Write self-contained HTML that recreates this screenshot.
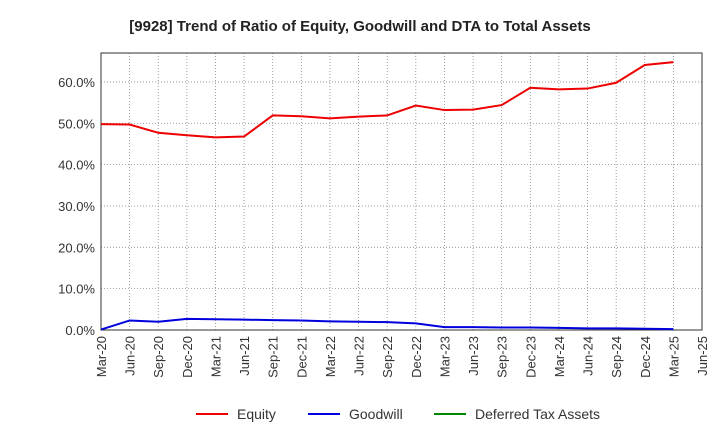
<!DOCTYPE html>
<html><head><meta charset="utf-8"><style>
body{margin:0;background:#fff;font-family:"Liberation Sans",Arial,sans-serif;}
svg text{font-family:"Liberation Sans",Arial,sans-serif;}
</style></head><body>
<svg id="chart" width="720" height="440" xmlns="http://www.w3.org/2000/svg">
<text x="360" y="31" text-anchor="middle" font-size="15" font-weight="bold" fill="#222">[9928]  Trend of Ratio of Equity, Goodwill and DTA to Total Assets</text>
<g id="grid"></g><g id="axes"></g><g id="series"></g>
<g>
<line x1="196" y1="414" x2="228" y2="414" stroke="#e00" stroke-width="2"/><text x="237" y="419" font-size="14" fill="#333">Equity</text>
<line x1="308" y1="414" x2="340" y2="414" stroke="#00d" stroke-width="2"/><text x="349" y="419" font-size="14" fill="#333">Goodwill</text>
<line x1="434" y1="414" x2="466" y2="414" stroke="#080" stroke-width="2"/><text x="475" y="419" font-size="14" fill="#333">Deferred Tax Assets</text>
</g>
</svg>
<script>
const categories=["Mar-20","Jun-20","Sep-20","Dec-20","Mar-21","Jun-21","Sep-21","Dec-21","Mar-22","Jun-22","Sep-22","Dec-22","Mar-23","Jun-23","Sep-23","Dec-23","Mar-24","Jun-24","Sep-24","Dec-24","Mar-25","Jun-25"];
const equity=[49.8,49.7,47.7,47.1,46.6,46.8,51.9,51.7,51.2,51.6,51.9,54.3,53.2,53.3,54.4,58.6,58.2,58.4,59.8,64.1,64.8];
const goodwill=[0.1,2.3,2.0,2.7,2.6,2.5,2.4,2.3,2.1,2.0,1.9,1.6,0.7,0.7,0.6,0.6,0.5,0.4,0.4,0.3,0.2];
const yTicks=[0,10,20,30,40,50,60];
const L=101,R=702,T=53,B=330,YMAX=67;
const x=i=>L+(R-L)*i/(categories.length-1);
const y=v=>B-(B-T)*v/YMAX;
const NS="http://www.w3.org/2000/svg";
function mk(tag,attrs,parent){const e=document.createElementNS(NS,tag);for(const k in attrs)e.setAttribute(k,attrs[k]);parent.appendChild(e);return e;}
const grid=document.getElementById('grid'),axes=document.getElementById('axes'),ser=document.getElementById('series');
categories.forEach((c,i)=>{
 const g=mk('line',{x1:x(i),x2:x(i),y1:T,y2:B,stroke:'#888','stroke-dasharray':'1,2','stroke-width':0.8},grid);
 
 
 const t=mk('text',{transform:`translate(${x(i)+5},${B+6}) rotate(-90)`,'text-anchor':'end','font-size':13,fill:'#333'},axes);
 t.textContent=c;
 
 
});
yTicks.forEach(v=>{
 const g=mk('line',{x1:L,x2:R,y1:y(v),y2:y(v),stroke:'#888','stroke-dasharray':'1,2','stroke-width':0.8},grid);
 
 
 const t=mk('text',{x:L-6,y:y(v)+5,'text-anchor':'end','font-size':13,fill:'#333'},axes);
 t.textContent=v.toFixed(1)+'%';
 
 
});
const frame=mk('rect',{x:L,y:T,width:R-L,height:B-T,fill:'none',stroke:'#333','stroke-width':1},axes);


function line(data,color,name){
 const p=mk('polyline',{points:data.map((v,i)=>x(i)+','+y(v)).join(' '),fill:'none',stroke:color,'stroke-width':2},ser);
 
 
}
line(equity,'#e00','equity-line');
line(goodwill,'#00d','goodwill-line');
</script>
</body></html>
